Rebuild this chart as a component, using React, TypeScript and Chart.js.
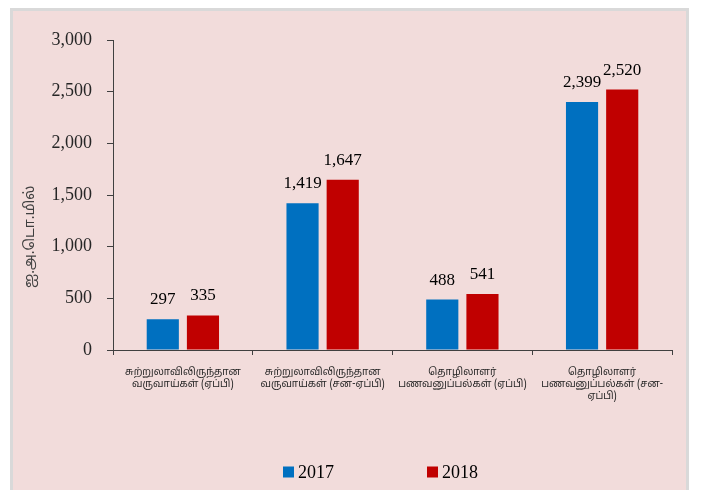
import React, { useEffect, useRef } from "react";
import { Chart, registerables } from "chart.js";

Chart.register(...registerables);

const categories: string[][] = [
  ["சுற்றுலாவிலிருந்தான", "வருவாய்கள் (ஏப்பி)"],
  ["சுற்றுலாவிலிருந்தான", "வருவாய்கள் (சன-ஏப்பி)"],
  ["தொழிலாளர்", "பணவனுப்பல்கள் (ஏப்பி)"],
  ["தொழிலாளர்", "பணவனுப்பல்கள் (சன-", "ஏப்பி)"],
];
const series2017: number[] = [297, 1419, 488, 2399];
const series2018: number[] = [335, 1647, 541, 2520];
const seriesNames: string[] = ["2017", "2018"];
const seriesColors: string[] = ["#0070c0", "#c00000"];
const yTitle = "ஐ.அ.டொ.மில்";
const yMin = 0;
const yMax = 3000;
const yStep = 500;

const SERIF = "'Liberation Serif', 'DejaVu Serif', serif";
const TAMIL = "'Noto Sans Tamil', 'Lohit Tamil', 'Noto Sans', 'DejaVu Sans', sans-serif";

const fmt = (v: number) => v.toLocaleString("en-US");

const dataLabels = {
  id: "dataLabels",
  afterDatasetsDraw(chart: any) {
    const ctx = chart.ctx;
    ctx.save();
    ctx.font = `17px ${SERIF}`;
    ctx.fillStyle = "#000000";
    ctx.textAlign = "center";
    ctx.textBaseline = "alphabetic";
    chart.data.datasets.forEach((ds: any, i: number) => {
      const meta = chart.getDatasetMeta(i);
      meta.data.forEach((el: any, j: number) => {
        ctx.fillText(fmt(ds.data[j]), el.x, el.y - 15);
      });
    });
    ctx.restore();
  },
};

const yTitlePlugin = {
  id: "yTitlePlugin",
  afterDraw(chart: any) {
    const ctx = chart.ctx;
    const area = chart.chartArea;
    ctx.save();
    ctx.translate(18, area.top + (area.bottom - area.top) * 0.635);
    ctx.rotate(-Math.PI / 2);
    ctx.font = `14px ${TAMIL}`;
    ctx.fillStyle = "#404040";
    ctx.textAlign = "center";
    ctx.textBaseline = "middle";
    ctx.fillText(yTitle, 0, 0);
    ctx.restore();
  },
};

const legendPlugin = {
  id: "customLegend",
  afterDraw(chart: any) {
    const ctx = chart.ctx;
    const cy = chart.height - 18;
    const starts = [270, 414];
    ctx.save();
    ctx.font = `18px ${SERIF}`;
    ctx.textBaseline = "middle";
    ctx.textAlign = "left";
    chart.data.datasets.forEach((ds: any, i: number) => {
      const x = starts[i];
      ctx.fillStyle = ds.backgroundColor;
      ctx.fillRect(x, cy - 5.5, 11, 11);
      ctx.fillStyle = "#000000";
      ctx.fillText(ds.label, x + 15, cy + 1);
    });
    ctx.restore();
  },
};

export default function App() {
  const ref = useRef<HTMLCanvasElement | null>(null);

  useEffect(() => {
    if (!ref.current) return;
    const chart = new Chart(ref.current, {
      type: "bar",
      data: {
        labels: categories,
        datasets: [
          {
            label: seriesNames[0],
            data: series2017,
            backgroundColor: seriesColors[0],
            borderWidth: 0,
          },
          {
            label: seriesNames[1],
            data: series2018,
            backgroundColor: seriesColors[1],
            borderWidth: 0,
          },
        ],
      },
      options: {
        animation: false,
        responsive: false,
        devicePixelRatio: 1,
        layout: { padding: { top: 29, right: 14, bottom: 40, left: 0 } },
        datasets: { bar: { categoryPercentage: 0.575, barPercentage: 0.8 } },
        plugins: {
          legend: { display: false },
          tooltip: { enabled: false },
        },
        scales: {
          x: {
            grid: {
              display: true,
              drawOnChartArea: false,
              drawTicks: true,
              tickLength: 5,
              offset: true,
              color: "#404040",
            },
            border: { display: true, color: "#404040", width: 1 },
            ticks: {
              font: { size: 10, family: TAMIL, lineHeight: 1.2 },
              color: "#262626",
              padding: 12,
              maxRotation: 0,
              minRotation: 0,
              autoSkip: false,
            },
            afterFit: (s: any) => {
              s.height = 100;
            },
          },
          y: {
            min: yMin,
            max: yMax,
            ticks: {
              stepSize: yStep,
              callback: (v: any) => fmt(Number(v)),
              font: { size: 18, family: SERIF },
              color: "#262626",
              padding: 15,
            },
            grid: {
              display: true,
              drawOnChartArea: false,
              drawTicks: true,
              tickLength: 6,
              color: "#404040",
            },
            border: { display: true, color: "#404040", width: 1 },
            afterFit: (s: any) => {
              s.width = 100;
            },
          },
        },
      },
      plugins: [dataLabels, yTitlePlugin, legendPlugin],
    });
    return () => chart.destroy();
  }, []);

  return (
    <div
      style={{
        marginLeft: 2,
        width: 673,
        height: 479,
        border: "3px solid #d9d9d9",
        borderBottom: "none",
        background: "#f2dcdb",
      }}
    >
      <canvas ref={ref} width={673} height={479} style={{ display: "block" }} />
    </div>
  );
}
